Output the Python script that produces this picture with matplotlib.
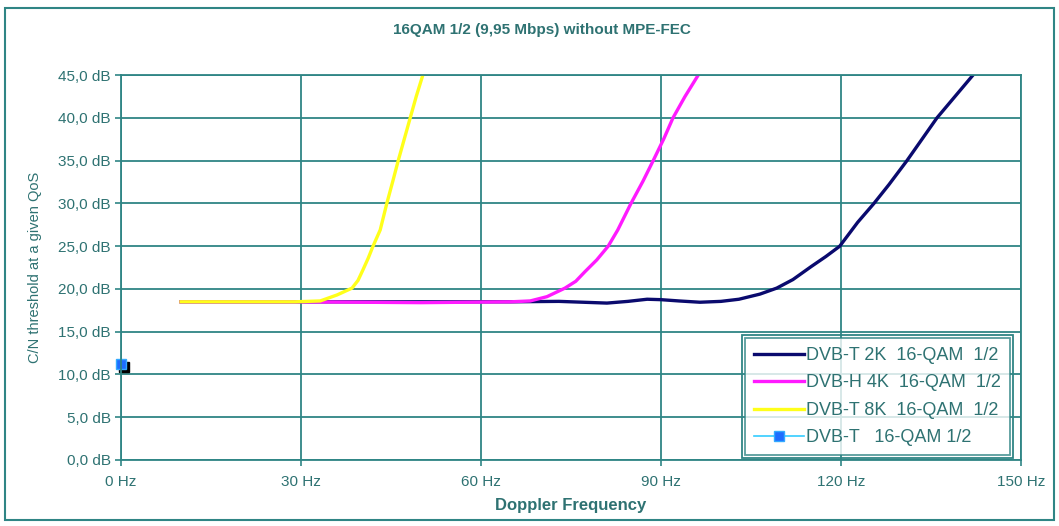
import matplotlib.pyplot as plt
from matplotlib.patches import Rectangle
from matplotlib.ticker import FuncFormatter

plt.rcParams['font.family'] = ['Liberation Sans', 'DejaVu Sans']

teal = '#2f8585'
txt = '#2e7272'

# data (Hz, dB)
dvbt2k_x = [10, 30, 50, 65, 73, 77, 81, 84.5, 87.7, 90, 93, 96.5, 100, 103, 106.5, 109.3, 112, 115, 117.5,
            119.8, 122.8, 125.5, 128, 131, 133.5, 136, 139, 142]
dvbt2k_y = [18.5, 18.5, 18.5, 18.5, 18.55, 18.45, 18.35, 18.55, 18.8, 18.75, 18.6, 18.45, 18.55, 18.8, 19.4,
            20.1, 21.1, 22.6, 23.8, 25.0, 27.8, 30.0, 32.2, 35.0, 37.5, 40.0, 42.5, 45.0]

dvbh4k_x = [10, 30, 50, 65, 68.2, 71, 74, 75.8, 77.3, 79.3, 81.2, 82.8, 85, 87, 88.7, 90.5, 92, 94, 96.2]
dvbh4k_y = [18.5, 18.5, 18.4, 18.5, 18.6, 19.1, 20.1, 20.9, 22.0, 23.4, 25.0, 26.9, 30.0, 32.6, 35.0, 37.6,
            40.0, 42.5, 45.0]

dvbt8k_x = [10, 20, 29, 33.2, 36, 38.5, 39.5, 40.3, 41.2, 42, 43.2, 44.3, 45.3, 46.2, 47.2, 48.2, 49.2, 50.3]
dvbt8k_y = [18.5, 18.5, 18.5, 18.6, 19.3, 20.1, 21.0, 22.2, 23.6, 25.0, 26.9, 30.0, 32.6, 35.0, 37.5, 40.0,
            42.5, 45.0]

dvbt_x = [0]
dvbt_y = [11.2]

xticks = [0, 30, 60, 90, 120, 150]
yticks = [0, 5, 10, 15, 20, 25, 30, 35, 40, 45]

fig = plt.figure(figsize=(10.59, 5.26), dpi=100)
fig.patches.append(Rectangle((0.005, 0.012), 0.99, 0.973, transform=fig.transFigure,
                             fill=False, edgecolor=teal, lw=1.5))
ax = fig.add_axes([0.1143, 0.1255, 0.8497, 0.7315])

ax.plot(dvbt2k_x, dvbt2k_y, color='#0a0a6e', lw=2.4, label='DVB-T 2K  16-QAM  1/2')
ax.plot(dvbh4k_x, dvbh4k_y, color='#ff1aff', lw=2.4, label='DVB-H 4K  16-QAM  1/2')
ax.plot(dvbt8k_x, dvbt8k_y, color='#ffff1a', lw=2.4, label='DVB-T 8K  16-QAM  1/2')
# shadow of the square marker
ax.plot([v + 0.5 for v in dvbt_x], [v - 0.35 for v in dvbt_y], 's', color='black', ms=7, clip_on=False)
ax.plot(dvbt_x, dvbt_y, color='#33ccff', lw=1.2, marker='s', ms=7, mfc='#1e6cff',
        mec='#33aaff', clip_on=False, label='DVB-T   16-QAM 1/2')

ax.set_xlim(0, 150)
ax.set_ylim(0, 45)
ax.set_xticks(xticks)
ax.set_yticks(yticks)
ax.xaxis.set_major_formatter(FuncFormatter(lambda v, p: f'{v:.0f} Hz'))
ax.yaxis.set_major_formatter(FuncFormatter(lambda v, p: f'{v:.1f} dB'.replace('.', ',')))
ax.grid(True, color=teal, lw=1.3)
for s in ax.spines.values():
    s.set_color(teal)
    s.set_linewidth(1.3)
ax.tick_params(colors=teal, labelcolor=txt, labelsize=11, length=4, width=1.2)
ax.tick_params(axis='x', pad=7)

fig.text(0.512, 0.943, '16QAM 1/2 (9,95 Mbps) without MPE-FEC', fontsize=11, fontweight='bold',
         color=txt, ha='center', va='center')
ax.set_xlabel('Doppler Frequency', fontsize=12, fontweight='bold', color=txt)
ax.set_ylabel('C/N threshold at a given QoS', fontsize=10.5, color=txt)
ax.yaxis.set_label_coords(-0.088, 0.5)
ax.xaxis.set_label_coords(0.5, -0.1)

leg = ax.legend(loc='lower right', bbox_to_anchor=(0.988, 0.012), borderaxespad=0, fontsize=13,
                frameon=True, fancybox=False, handlelength=2.8, handletextpad=0.1,
                borderpad=0.5, labelspacing=0.58, labelcolor=txt)
leg.get_frame().set_edgecolor(teal)
leg.get_frame().set_linewidth(1.3)

# second (outer) line of the legend frame
fig.canvas.draw()
bb = leg.get_window_extent().transformed(fig.transFigure.inverted())
dx, dy = 3 / 1059, 3 / 526
fig.patches.append(Rectangle((bb.x0 - dx, bb.y0 - dy), bb.width + 2 * dx, bb.height + 2 * dy,
                             transform=fig.transFigure, fill=False, edgecolor=teal, lw=1.3, zorder=10))

fig.savefig('out.png', dpi=100)
